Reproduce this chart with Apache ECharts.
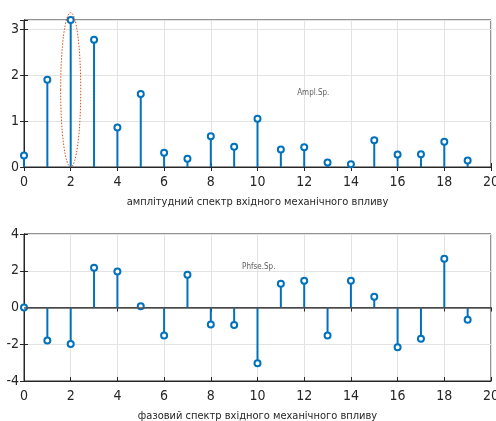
<!DOCTYPE html>
<html>
<head>
<meta charset="utf-8">
<script src="https://cdn.jsdelivr.net/npm/echarts@6/dist/echarts.min.js"></script>
<style>
  html, body { margin: 0; padding: 0; background: #fff; }
  #chart { width: 496px; height: 421px; }
</style>
</head>
<body>
<div id="chart"></div>
<script>
// номери гармонік
const harmonics = [0, 1, 2, 3, 4, 5, 6, 7, 8, 9, 10, 11, 12, 13, 14, 15, 16, 17, 18, 19];
// амплітудний спектр
const amplitude = [0.25, 1.90, 3.20, 2.77, 0.86, 1.59, 0.31, 0.18, 0.67, 0.44,
                   1.05, 0.38, 0.43, 0.10, 0.06, 0.58, 0.27, 0.28, 0.55, 0.14];
// фазовий спектр
const phase = [0.00, -1.79, -1.99, 2.16, 1.96, 0.07, -1.52, 1.78, -0.92, -0.95,
               -3.04, 1.29, 1.45, -1.52, 1.45, 0.58, -2.17, -1.70, 2.65, -0.67];
const ampTicks = [0, 1, 2, 3];
const phaseTicks = [-4, -2, 0, 2, 4];
// виділена гармоніка (еліпс) та підписи
const highlight = { x: 2, y: 1.68, rx: 0.43, ry: 1.68 };
const ampNote = { x: 11.7, y: 1.62, text: 'Ampl.Sp.' };
const phaseNote = { x: 9.34, y: 2.23, text: 'Phfse.Sp.' };

const FONT = '"Liberation Sans Narrow", "DejaVu Sans Condensed", "Arial Narrow", "Liberation Sans", sans-serif';
const BLUE = '#0072BD';
const AXC = '#262626';

function pairs(xs, ys) { return xs.map((x, i) => [x, ys[i]]); }

function mainX(gi, name) {
    return {
        type: 'value', gridIndex: gi, min: 0, max: 20, interval: 2,
        name: name, nameLocation: 'middle', nameGap: 30,
        nameTextStyle: { fontFamily: FONT, fontSize: 11, color: AXC },
        axisLine: { onZero: false, lineStyle: { color: AXC, width: 1 } },
        axisTick: { inside: true, length: 4, lineStyle: { color: AXC } },
        axisLabel: { fontFamily: FONT, fontSize: 14, color: AXC, margin: 8 },
        splitLine: { show: true, lineStyle: { color: '#e3e3e3', width: 1 } }
    };
}
function topX(gi) {
    return {
        type: 'value', gridIndex: gi, position: 'top', min: 0, max: 20, interval: 2,
        axisLine: { lineStyle: { color: AXC, width: 1 } },
        axisTick: { inside: true, length: 4, lineStyle: { color: AXC } },
        axisLabel: { show: false }, splitLine: { show: false }
    };
}
function mainY(gi, min, max, interval, ticks) {
    return {
        type: 'value', gridIndex: gi, min: min, max: max, interval: interval,
        axisLine: { show: true, lineStyle: { color: AXC, width: 1 } },
        axisTick: { show: true, inside: true, length: 4, lineStyle: { color: AXC } },
        axisLabel: {
            fontFamily: FONT, fontSize: 14, color: AXC, margin: 5,
            formatter: v => ticks.indexOf(v) >= 0 ? String(v) : ''
        },
        splitLine: { show: true, lineStyle: { color: '#e3e3e3', width: 1 } }
    };
}
function rightY(gi, min, max, interval) {
    return {
        type: 'value', gridIndex: gi, position: 'right', min: min, max: max, interval: interval,
        axisLine: { show: true, lineStyle: { color: AXC, width: 1 } },
        axisTick: { show: true, inside: true, length: 4, lineStyle: { color: AXC } },
        axisLabel: { show: false }, splitLine: { show: false }
    };
}
function stems(xi, yi, data, extra) {
    return Object.assign({
        type: 'bar', xAxisIndex: xi, yAxisIndex: yi, barWidth: 2,
        itemStyle: { color: BLUE }, data: data, z: 3, animation: false
    }, extra || {});
}
function heads(xi, yi, data) {
    return {
        type: 'scatter', xAxisIndex: xi, yAxisIndex: yi, symbol: 'circle', symbolSize: 6,
        itemStyle: { color: '#fff', borderColor: BLUE, borderWidth: 2, opacity: 1 },
        data: data, z: 4, animation: false
    };
}
function note(xi, yi, n) {
    return {
        type: 'scatter', xAxisIndex: xi, yAxisIndex: yi, symbolSize: 0,
        data: [[n.x, n.y]], silent: true, animation: false,
        label: { show: true, position: 'inside', align: 'left', formatter: n.text,
                 fontFamily: FONT, fontSize: 8, color: '#333' }
    };
}

const chart = echarts.init(document.getElementById('chart'), null, { renderer: 'canvas' });
chart.setOption({
    backgroundColor: '#fff',
    animation: false,
    grid: [
        { left: 24, top: 20, width: 467, height: 147, outerBoundsMode: 'none', containLabel: false,
          show: true, borderColor: AXC, borderWidth: 1 },
        { left: 24, top: 234, width: 467, height: 147, outerBoundsMode: 'none', containLabel: false,
          show: true, borderColor: AXC, borderWidth: 1 }
    ],
    xAxis: [
        mainX(0, 'амплітудний спектр вхідного механічного впливу'), topX(0),
        mainX(1, 'фазовий спектр вхідного механічного впливу'), topX(1)
    ],
    yAxis: [
        mainY(0, 0, 3.2, 1, ampTicks), rightY(0, 0, 3.2, 1),
        mainY(1, -4, 4, 2, phaseTicks), rightY(1, -4, 4, 2)
    ],
    series: [
        stems(0, 0, pairs(harmonics, amplitude)),
        heads(0, 0, pairs(harmonics, amplitude)),
        note(0, 0, ampNote),
        {
            type: 'custom', xAxisIndex: 0, yAxisIndex: 0, clip: false, silent: true,
            data: [[highlight.x, highlight.y]], z: 5,
            renderItem: function (params, api) {
                const c = api.coord([api.value(0), api.value(1)]);
                const s = api.size([highlight.rx, highlight.ry]);
                return {
                    type: 'ellipse',
                    shape: { cx: c[0], cy: c[1], rx: s[0], ry: s[1] },
                    style: { fill: null, stroke: '#D95319', lineWidth: 1, lineDash: [1.5, 1.5] }
                };
            }
        },
        stems(2, 2, pairs(harmonics, phase), {
            markLine: {
                symbol: 'none', silent: true, animation: false,
                label: { show: false },
                lineStyle: { color: '#555', type: 'solid', width: 1.5 },
                data: [{ yAxis: 0 }]
            }
        }),
        heads(2, 2, pairs(harmonics, phase)),
        note(2, 2, phaseNote)
    ]
});
</script>
</body>
</html>
